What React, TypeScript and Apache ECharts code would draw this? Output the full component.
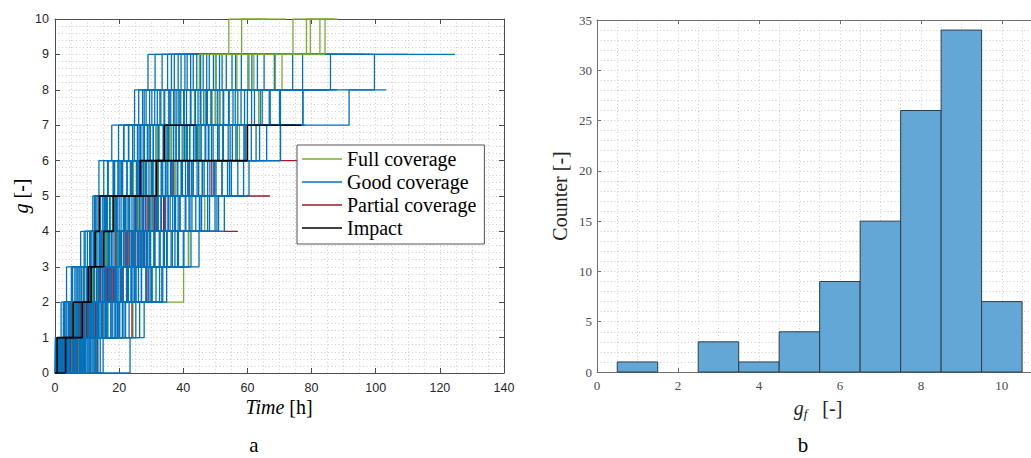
import React, { useEffect, useRef } from "react";
import * as echarts from "echarts";

// ---------- Panel a: step trajectories ----------
// Each run: times [h] at which g steps up by one, the last value is the end time of the run.
const goodCoverageRuns: number[][] = [
  [0.5, 1.9, 3.6, 8.0, 11.8, 13.7, 17.7, 24.8, 29.0, 64.0],
  [1.2, 3.0, 5.1, 9.4, 12.3, 15.2, 19.8, 26.1, 31.2, 47.5],
  [0.3, 2.6, 6.2, 10.8, 13.1, 16.4, 21.5, 27.3, 33.4, 58.0],
  [2.2, 4.8, 7.5, 11.1, 14.9, 18.6, 22.9, 28.4, 35.1, 76.0],
  [1.6, 5.4, 8.8, 12.6, 15.8, 20.3, 25.7, 30.2, 36.3, 52.0],
  [3.1, 6.0, 9.9, 13.4, 17.2, 21.1, 26.8, 31.9, 37.2, 69.0],
  [0.9, 4.2, 7.1, 12.0, 16.3, 22.4, 27.9, 33.0, 38.4, 45.0],
  [4.5, 7.9, 10.5, 14.1, 18.0, 23.6, 28.8, 34.2, 39.3, 86.0],
  [2.7, 5.9, 11.4, 15.6, 19.4, 24.2, 29.6, 35.5, 40.5, 57.0],
  [5.2, 8.3, 12.2, 16.9, 20.6, 25.4, 30.7, 36.1, 41.2, 73.0],
  [1.4, 6.7, 10.2, 14.7, 21.8, 26.3, 31.5, 37.4, 42.3, 61.0],
  [6.1, 9.5, 13.2, 17.8, 22.1, 27.0, 32.4, 38.0, 43.1, 92.0],
  [3.8, 7.3, 11.7, 16.0, 23.3, 28.1, 33.7, 39.2, 44.2, 55.0],
  [7.4, 10.1, 14.3, 18.9, 24.0, 29.3, 34.6, 40.1, 45.4, 80.0],
  [2.0, 8.6, 12.9, 19.7, 25.1, 30.4, 35.8, 41.0, 46.2, 67.0],
  [8.2, 11.0, 15.4, 20.1, 26.5, 31.8, 36.9, 42.4, 47.3, 58.5],
  [4.1, 9.2, 13.8, 21.3, 27.4, 32.2, 37.8, 43.5, 48.1, 100.0],
  [9.0, 12.4, 16.7, 22.7, 28.2, 33.6, 38.8, 44.6, 49.4, 71.0],
  [5.7, 10.6, 15.0, 23.9, 29.1, 34.4, 39.9, 45.3, 50.2, 63.0],
  [0.6, 3.4, 17.3, 24.5, 30.0, 35.2, 41.3, 46.4, 51.3, 84.0],
  [10.3, 13.0, 18.4, 25.8, 30.9, 36.4, 42.0, 47.5, 52.1, 60.0],
  [6.8, 11.5, 19.1, 26.7, 32.0, 37.1, 43.2, 48.6, 53.4, 78.0],
  [3.5, 12.8, 20.4, 27.6, 33.2, 38.3, 44.4, 50.0, 55.2, 96.0],
  [11.2, 14.6, 21.2, 28.9, 34.0, 39.5, 45.6, 51.2, 56.3, 70.0],
  [7.9, 15.3, 22.6, 29.8, 35.3, 40.7, 46.8, 52.6, 58.1, 75.0],
  [1.9, 9.8, 16.2, 24.1, 31.4, 41.9, 48.0, 54.1, 60.2, 88.0],
  [12.1, 16.1, 23.8, 31.0, 36.7, 43.0, 49.3, 55.5, 61.4, 82.0],
  [8.7, 13.6, 18.2, 27.2, 37.6, 44.3, 50.8, 57.0, 63.1, 69.5],
  [4.9, 14.0, 25.3, 32.8, 39.0, 45.9, 52.3, 59.1, 65.2, 110.0],
  [13.0, 17.5, 26.0, 34.8, 40.8, 47.6, 54.0, 61.3, 68.4, 77.0],
  [9.6, 19.0, 28.5, 36.2, 42.7, 49.8, 56.4, 64.0, 85.9, 99.0],
  [2.4, 20.0, 30.3, 38.5, 45.0, 52.0, 59.2, 66.8, 74.1, 98.0],
  [10.9, 22.0, 32.6, 41.6, 48.2, 55.0, 62.7, 70.3, 77.2, 86.0],
  [6.5, 18.8, 29.9, 40.2, 50.5, 58.8, 66.0, 77.3, 99.6, 124.7],
  [0.4, 2.8, 5.5, 9.1, 12.7, 16.6, 21.4, 27.8, 41.0],
  [1.7, 4.4, 7.8, 10.9, 14.2, 18.1, 23.0, 29.5, 53.0],
  [3.3, 6.4, 9.3, 12.5, 15.5, 19.6, 24.7, 31.1, 66.0],
  [0.7, 7.0, 10.7, 13.9, 17.0, 20.8, 26.2, 32.7, 48.0],
  [5.0, 8.1, 11.6, 15.1, 18.8, 22.5, 27.5, 34.0, 58.0],
  [2.5, 9.7, 12.1, 16.4, 20.0, 24.4, 29.0, 35.6, 44.0],
  [6.3, 10.4, 13.5, 17.6, 21.6, 25.9, 30.6, 37.0, 72.0],
  [1.1, 5.6, 14.8, 19.3, 23.2, 27.1, 32.1, 38.7, 51.0],
  [7.6, 11.3, 15.9, 20.7, 24.9, 28.6, 33.9, 40.3, 62.0],
  [3.9, 12.0, 17.1, 22.0, 26.4, 30.1, 35.4, 42.2, 57.0],
  [8.9, 13.3, 18.5, 23.4, 27.7, 31.6, 37.0, 43.8, 76.5],
  [4.6, 14.4, 19.9, 24.6, 29.2, 33.1, 38.6, 45.5, 54.0],
  [10.0, 15.7, 21.0, 25.6, 30.5, 34.9, 40.4, 47.2, 65.0],
  [0.2, 6.9, 16.8, 26.9, 31.7, 36.5, 42.0, 48.9, 59.0],
  [11.6, 17.4, 22.3, 28.0, 33.0, 38.1, 43.7, 50.6, 77.0],
  [5.5, 18.7, 23.7, 29.4, 34.5, 39.7, 45.2, 52.4, 61.0],
  [12.4, 19.5, 25.0, 30.8, 35.9, 41.4, 47.0, 54.3, 68.0],
  [2.9, 10.8, 20.5, 26.6, 37.3, 43.1, 48.8, 56.2, 73.0],
  [8.0, 21.5, 27.0, 32.5, 38.9, 44.8, 50.7, 58.0, 64.5],
  [13.4, 16.5, 22.9, 33.8, 40.6, 46.5, 52.5, 60.0, 79.0],
  [4.3, 13.1, 24.3, 35.0, 42.1, 48.3, 54.6, 62.2, 70.0],
  [9.3, 23.1, 28.3, 36.6, 43.9, 50.2, 56.8, 64.6, 83.0],
  [14.1, 25.2, 30.1, 38.2, 45.7, 52.1, 58.9, 67.1, 74.0],
  [6.0, 15.9, 31.5, 40.0, 47.6, 54.4, 61.2, 70.0, 88.0],
  [10.6, 26.4, 33.3, 42.4, 49.9, 57.0, 63.8, 77.3, 85.0],
  [15.0, 20.2, 34.8, 44.9, 52.8, 60.5, 70.3, 91.7, 103.3],
  [0.9, 3.7, 6.6, 10.1, 13.8, 18.3, 24.2, 39.0],
  [2.3, 5.8, 9.0, 12.8, 16.1, 20.9, 26.6, 45.0],
  [4.0, 7.7, 11.0, 14.6, 19.2, 23.5, 29.7, 56.0],
  [1.5, 8.9, 12.3, 16.8, 21.3, 25.8, 32.3, 49.0],
  [6.7, 10.3, 14.0, 18.4, 22.8, 28.3, 35.0, 62.0],
  [3.0, 11.8, 15.6, 20.3, 24.6, 30.6, 37.7, 53.0],
  [7.8, 12.9, 17.4, 22.2, 27.1, 33.4, 40.9, 67.0],
  [0.1, 5.2, 18.9, 24.0, 29.6, 36.0, 44.1, 58.0],
  [9.4, 14.8, 20.7, 26.0, 32.2, 39.3, 47.8, 71.0],
  [5.3, 16.2, 22.5, 28.5, 35.3, 42.5, 51.2, 63.0],
  [11.0, 18.0, 24.8, 31.2, 38.4, 46.0, 55.3, 66.0],
  [2.6, 19.7, 26.9, 34.1, 41.8, 49.5, 59.5, 74.0],
  [12.7, 21.0, 29.3, 37.4, 45.2, 53.8, 70.3, 78.0],
  [1.3, 4.6, 8.2, 11.5, 15.3, 19.9, 36.0],
  [3.6, 7.2, 10.9, 14.4, 18.7, 23.8, 47.0],
  [0.6, 9.3, 13.0, 17.1, 22.0, 27.6, 41.0],
  [6.2, 11.9, 16.0, 20.5, 25.6, 31.3, 59.0],
  [8.5, 13.5, 19.4, 24.9, 51.0, 55.0, 60.0],
  [2.1, 6.5, 12.2, 16.6, 21.7, 58.3],
  [23.4, 27.8, 33.6, 38.0],
  [5.9, 14.0],
];

const fullCoverageRuns: number[][] = [
  [1.4, 4.9, 8.4, 12.9, 17.9, 24.5, 31.6, 38.6, 45.0, 54.2, 66.0],
  [3.7, 7.0, 11.8, 16.2, 21.4, 28.0, 35.7, 43.6, 50.0, 58.2, 72.0],
  [12.8, 24.3, 40.1, 41.7, 46.7, 52.0, 57.5, 63.5, 70.8, 74.2, 80.0],
  [5.1, 9.6, 14.0, 19.5, 26.0, 33.3, 41.0, 48.8, 56.7, 78.4, 85.0],
  [2.2, 8.0, 13.3, 18.8, 25.5, 32.0, 39.6, 47.0, 68.7, 79.6, 83.0],
  [7.1, 12.0, 17.2, 23.1, 30.0, 37.5, 44.7, 51.5, 62.0, 82.6, 88.0],
  [0.9, 6.3, 10.6, 15.4, 22.8, 29.9, 36.3, 50.0, 60.5, 84.2, 87.0],
];

const partialCoverageRuns: number[][] = [
  [4.8, 10.0, 17.0, 31.4],
  [13.2, 24.0, 29.0, 30.5],
  [2.7, 7.4, 15.8, 26.2, 57.0],
  [3.4, 8.7, 14.2, 21.8, 34.0, 67.0],
  [6.9, 12.6, 18.1, 25.0, 31.0, 44.0],
  [1.0, 9.8, 16.3, 23.1, 28.7, 40.0],
  [0.8, 5.0, 11.3, 19.0, 27.5, 48.9, 75.5],
  [2.0, 7.9, 13.7, 20.6, 25.2, 30.2, 42.0],
  [5.6, 10.5, 17.7, 22.4, 29.4, 36.8, 50.0],
  [9.1, 14.9, 21.2, 27.9, 33.9, 41.5, 55.0],
];

const impactRuns: number[][] = [
  [0.7, 5.7, 10.4, 12.5, 13.8, 31.7, 60.0, 76.8],
  [3.3, 8.5, 11.3, 15.2, 18.2, 26.6, 34.1, 44.0],
];

const seriesNames = ["Full coverage", "Good coverage", "Partial coverage", "Impact"];

// ---------- Panel b: histogram of g_f ----------
const gfBinCenters = [1, 2, 3, 4, 5, 6, 7, 8, 9, 10];
const gfCounts = [1, 0, 3, 1, 4, 9, 15, 26, 34, 7];

const GREEN = "#77AC30";
const BLUE = "#0072BD";
const RED = "#A2142F";
const BLACK = "#000000";

function toStepData(run: number[]) {
  const pts: number[][] = [[0, 0]];
  const k = run.length - 1;
  for (let i = 0; i < k; i++) pts.push([run[i], i + 1]);
  pts.push([run[k], k]);
  return pts;
}

function lineSeries(run: number[], name: string, color: string, width: number) {
  return {
    type: "line",
    name,
    xAxisIndex: 0,
    yAxisIndex: 0,
    step: "end",
    data: toStepData(run),
    symbol: "none",
    showSymbol: false,
    silent: true,
    lineStyle: { color, width },
    itemStyle: { color },
    emphasis: { disabled: true },
  };
}

const SERIF = "'Liberation Serif', 'DejaVu Serif', serif";
const SANS = "'Liberation Sans', Arial, sans-serif";
const gridDot = { color: "#cfcfcf", type: [1, 2.5], width: 1 };

export default function App() {
  const ref = useRef<HTMLDivElement>(null);
  useEffect(() => {
    if (!ref.current) return;
    const chart = echarts.init(ref.current, null, { renderer: "svg" });
    const half = 40;
    const series: any[] = [];
    goodCoverageRuns.slice(0, half).forEach((r) => series.push(lineSeries(r, seriesNames[1], BLUE, 1.3)));
    fullCoverageRuns.forEach((r) => series.push(lineSeries(r, seriesNames[0], GREEN, 1.3)));
    partialCoverageRuns.forEach((r) => series.push(lineSeries(r, seriesNames[2], RED, 1.3)));
    goodCoverageRuns.slice(half).forEach((r) => series.push(lineSeries(r, seriesNames[1], BLUE, 1.3)));
    impactRuns.forEach((r) => series.push(lineSeries(r, seriesNames[3], BLACK, 1.6)));

    series.push({
      type: "custom",
      xAxisIndex: 2,
      yAxisIndex: 2,
      silent: true,
      data: gfBinCenters.map((c, i) => [c, gfCounts[i]]).filter((d) => d[1] > 0),
      encode: { x: 0, y: 1 },
      renderItem: (_params: any, api: any) => {
        const c = api.value(0);
        const n = api.value(1);
        const p0 = api.coord([c - 0.5, n]);
        const p1 = api.coord([c + 0.5, 0]);
        return {
          type: "rect",
          shape: { x: p0[0], y: p0[1], width: p1[0] - p0[0], height: p1[1] - p0[1] },
          style: { fill: "#63A7D7", stroke: "#2E3D4A", lineWidth: 1 },
        };
      },
    });

    const leftAxisLine = { show: true, onZero: false, lineStyle: { color: "#4d4d4d", width: 1 } };
    const rightAxisLine = { show: true, onZero: false, lineStyle: { color: "#707070", width: 1 } };
    const hiddenLabel = { show: false };

    const option: any = {
      animation: false,
      backgroundColor: "#ffffff",
      textStyle: { fontFamily: SANS },
      grid: [
        { left: 55, top: 19, width: 449, height: 354 },
        { left: 597, top: 20, width: 434, height: 352 },
      ],
      xAxis: [
        {
          type: "value", gridIndex: 0, min: 0, max: 140, interval: 20, position: "bottom",
          axisLine: leftAxisLine,
          axisTick: { show: true, inside: true, length: 5, lineStyle: { color: "#4d4d4d" } },
          axisLabel: { color: "#262626", fontFamily: SANS, fontSize: 12.5, margin: 8 },
          splitLine: { show: true, lineStyle: gridDot },
          minorTick: { show: false, splitNumber: 4 },
          minorSplitLine: { show: true, lineStyle: gridDot },
        },
        {
          type: "value", gridIndex: 0, min: 0, max: 140, interval: 20, position: "top",
          axisLine: leftAxisLine,
          axisTick: { show: true, inside: true, length: 5, lineStyle: { color: "#4d4d4d" } },
          axisLabel: hiddenLabel, splitLine: { show: false },
        },
        {
          type: "value", gridIndex: 1, min: 0, max: 10.72, interval: 2, position: "bottom",
          axisLine: rightAxisLine,
          axisTick: { show: true, inside: true, length: 4, lineStyle: { color: "#707070" } },
          axisLabel: { color: "#4a4a4a", fontFamily: SERIF, fontSize: 13, margin: 7, showMaxLabel: false },
          splitLine: { show: true, lineStyle: gridDot },
          minorTick: { show: false, splitNumber: 4 },
          minorSplitLine: { show: true, lineStyle: gridDot },
        },
        {
          type: "value", gridIndex: 1, min: 0, max: 10.72, interval: 2, position: "top",
          axisLine: rightAxisLine,
          axisTick: { show: true, inside: true, length: 4, lineStyle: { color: "#707070" } },
          axisLabel: hiddenLabel, splitLine: { show: false },
        },
      ],
      yAxis: [
        {
          type: "value", gridIndex: 0, min: 0, max: 10, interval: 1, position: "left",
          axisLine: leftAxisLine,
          axisTick: { show: true, inside: true, length: 5, lineStyle: { color: "#4d4d4d" } },
          axisLabel: { color: "#262626", fontFamily: SANS, fontSize: 12.5, margin: 6 },
          splitLine: { show: true, lineStyle: gridDot },
          minorTick: { show: false, splitNumber: 5 },
          minorSplitLine: { show: true, lineStyle: gridDot },
        },
        {
          type: "value", gridIndex: 0, min: 0, max: 10, interval: 1, position: "right",
          axisLine: leftAxisLine,
          axisTick: { show: true, inside: true, length: 5, lineStyle: { color: "#4d4d4d" } },
          axisLabel: hiddenLabel, splitLine: { show: false },
        },
        {
          type: "value", gridIndex: 1, min: 0, max: 35, interval: 5, position: "left",
          axisLine: rightAxisLine,
          axisTick: { show: true, inside: true, length: 4, lineStyle: { color: "#707070" } },
          axisLabel: { color: "#4a4a4a", fontFamily: SERIF, fontSize: 13, margin: 5 },
          splitLine: { show: true, lineStyle: gridDot },
          minorTick: { show: false, splitNumber: 5 },
          minorSplitLine: { show: true, lineStyle: gridDot },
        },
      ],
      legend: {
        show: true,
        orient: "vertical",
        left: 297,
        top: 145,
        data: seriesNames,
        icon: "rect",
        itemWidth: 40,
        itemHeight: 1.5,
        itemGap: 3,
        padding: [4, 8, 6, 5],
        backgroundColor: "#ffffff",
        borderColor: "#555555",
        borderWidth: 1,
        selectedMode: false,
        textStyle: { fontFamily: SERIF, fontSize: 20, color: "#000", lineHeight: 20 },
      },
      graphic: [
        {
          type: "text", x: 21, y: 196, rotation: Math.PI / 2,
          style: {
            text: "{i|g} [-]", align: "center", verticalAlign: "middle",
            font: `20px ${SERIF}`, fill: "#000",
            rich: { i: { fontStyle: "italic", fontFamily: SERIF, fontSize: 20 } },
          },
        },
        {
          type: "text", x: 279, y: 407,
          style: {
            text: "{i|Time} [h]", align: "center", verticalAlign: "middle",
            font: `20px ${SERIF}`, fill: "#000",
            rich: { i: { fontStyle: "italic", fontFamily: SERIF, fontSize: 20 } },
          },
        },
        {
          type: "text", x: 560, y: 196, rotation: Math.PI / 2,
          style: {
            text: "Counter [-]", align: "center", verticalAlign: "middle",
            font: `20px ${SERIF}`, fill: "#222",
          },
        },
        {
          type: "text", x: 818, y: 408,
          style: {
            text: "{i|g}{s|f}   [-]", align: "center", verticalAlign: "middle",
            font: `20px ${SERIF}`, fill: "#222",
            rich: {
              i: { fontStyle: "italic", fontFamily: SERIF, fontSize: 20 },
              s: { fontStyle: "italic", fontFamily: SERIF, fontSize: 13, padding: [10, 0, 0, 0] },
            },
          },
        },
        {
          type: "text", x: 254, y: 445,
          style: { text: "a", align: "center", verticalAlign: "middle", font: `21px ${SERIF}`, fill: "#000" },
        },
        {
          type: "text", x: 803, y: 445,
          style: { text: "b", align: "center", verticalAlign: "middle", font: `21px ${SERIF}`, fill: "#000" },
        },
      ],
      series,
    };
    chart.setOption(option);
    return () => chart.dispose();
  }, []);

  return (
    <div
      ref={ref}
      style={{ position: "fixed", left: 0, top: 0, width: 1031, height: 458, background: "#fff" }}
    />
  );
}
